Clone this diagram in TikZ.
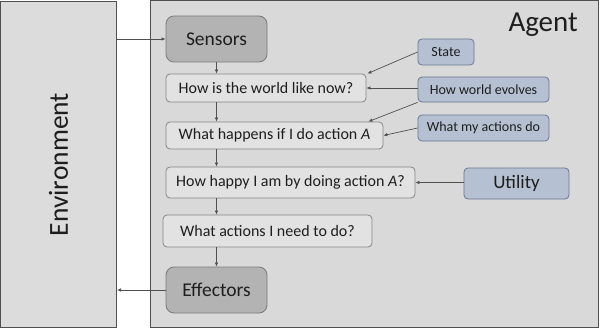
\documentclass[tikz,border=0pt]{standalone}
\usepackage{fontspec}
\setmainfont{Carlito}
\usetikzlibrary{arrows.meta,calc}
\definecolor{bggray}{HTML}{D9D9D9}
\definecolor{envgray}{HTML}{DCDCDC}
\definecolor{framegray}{HTML}{505050}
\definecolor{darkbox}{HTML}{B3B3B3}
\definecolor{darkline}{HTML}{7A7A7A}
\definecolor{lightbox}{HTML}{E2E2E2}
\definecolor{lightline}{HTML}{858585}
\definecolor{bluebox}{HTML}{B5C0D3}
\definecolor{blueline}{HTML}{6A788E}
\definecolor{txt}{HTML}{1E1E1E}
\tikzset{
  frame/.style={draw=framegray, line width=1pt, inner sep=0pt},
  darkstep/.style={draw=darkline, fill=darkbox, rounded corners=8pt, line width=0.8pt, inner sep=0pt, text=txt, font=\fontsize{19.5}{22}\selectfont},
  qbox/.style={draw=lightline, fill=lightbox, rounded corners=4pt, line width=0.8pt, inner sep=0pt, text=txt, font=\fontsize{16}{18}\selectfont},
  bbox/.style={draw=blueline, fill=bluebox, rounded corners=4pt, line width=0.8pt, inner sep=0pt, text=txt, font=\fontsize{14}{16}\selectfont},
  arr/.style={draw=framegray, line width=0.7pt, -{Latex[length=4pt,width=3.5pt]}},
}
\begin{document}
\begin{tikzpicture}[x=1pt,y=-1pt]
\useasboundingbox[fill=white] (0,0) rectangle (600,329);
\node[frame, fill=envgray, minimum width=116pt, minimum height=326pt] (env) at (58.5,164.5) {};
\node[rotate=90, text=txt, font=\fontsize{27.5}{30}\selectfont] (envtxt) at (env.center) {Environment};
\node[frame, fill=bggray, minimum width=448pt, minimum height=326pt] (agent) at (374,164) {};
\node[text=txt, font=\fontsize{29}{31}\selectfont, anchor=base east, inner sep=0pt] (agenttxt) at (578,32) {Agent};
\node[darkstep, minimum width=101pt, minimum height=46pt] (sensors) at (216.5,39) {Sensors};
\node[qbox, minimum width=200pt, minimum height=28pt] (now) at (266,88) {How is the world like now?};
\node[qbox, minimum width=217pt, minimum height=27pt] (what) at (274.5,135.5) {What happens if I do action \textit{A}};
\node[qbox, minimum width=249pt, minimum height=31pt] (happy) at (290.5,182.5) {How happy I am by doing action \textit{A}?};
\node[qbox, minimum width=209pt, minimum height=32pt] (need) at (267.5,231) {What actions I need to do?};
\node[darkstep, minimum width=101pt, minimum height=46pt] (eff) at (216.5,290) {Effectors};
\node[bbox, minimum width=56pt, minimum height=26pt] (state) at (446,52) {State};
\node[bbox, minimum width=131pt, minimum height=25pt] (evolves) at (483.5,89.5) {How world evolves};
\node[bbox, minimum width=131pt, minimum height=26pt] (actdo) at (483.5,128) {What my actions do};
\node[bbox, minimum width=105pt, minimum height=31pt, font=\fontsize{19}{21}\selectfont] (utility) at (516.5,183.5) {Utility};
\draw[arr] (env.east |- sensors) -- (sensors.west);
\draw[arr] (eff.west) -- (env.east |- eff);
\draw[arr] (sensors.south) -- (now.north -| sensors);
\draw[arr] (now.south -| sensors) -- (what.north -| sensors);
\draw[arr] (what.south -| sensors) -- (happy.north -| sensors);
\draw[arr] (happy.south -| sensors) -- (need.north -| sensors);
\draw[arr] (need.south -| sensors) -- (eff.north);
\draw[arr] (state.west) -- ([xshift=1pt]now.north east);
\draw[arr] (evolves.west |- now.east) -- (now.east);
\draw[arr] (evolves.south west) -- ([xshift=-15pt]what.north east);
\draw[arr] (actdo.west) -- (what.east);
\draw[arr] (utility.west |- happy.east) -- (happy.east);
\end{tikzpicture}
\end{document}
